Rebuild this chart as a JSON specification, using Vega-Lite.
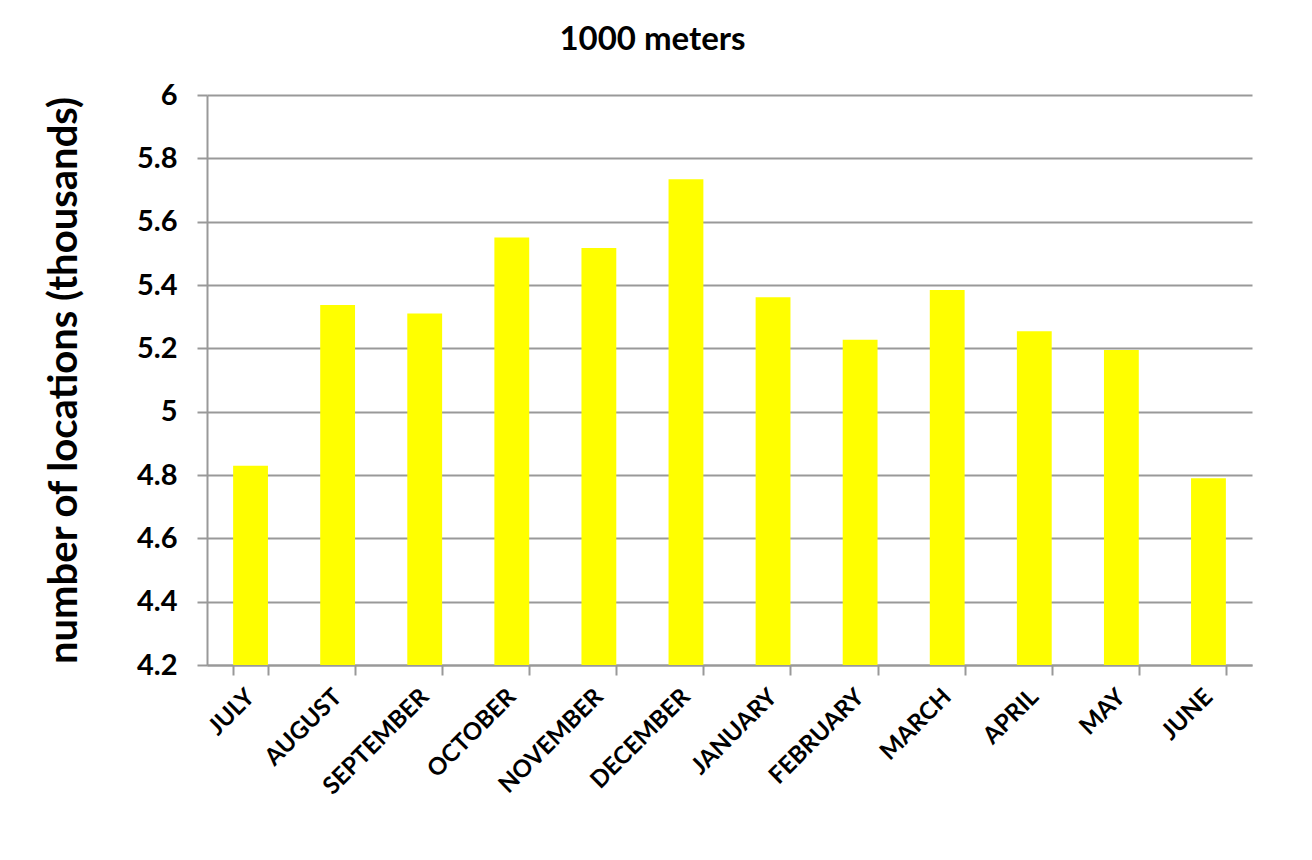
{
  "$schema": "https://vega.github.io/schema/vega-lite/v6.json",
  "autosize": "none",
  "width": 1045,
  "height": 570,
  "padding": {"left": 207, "top": 95, "right": 60, "bottom": 195},
  "background": "white",
  "title": {"text": "1000 meters", "font": "Lato", "fontSize": 33, "fontWeight": "bold", "color": "black", "offset": 24, "dx": -77},
  "data": {"values": [
    {"month": "JULY", "value": 4.829},
    {"month": "AUGUST", "value": 5.337},
    {"month": "SEPTEMBER", "value": 5.310},
    {"month": "OCTOBER", "value": 5.550},
    {"month": "NOVEMBER", "value": 5.517},
    {"month": "DECEMBER", "value": 5.734},
    {"month": "JANUARY", "value": 5.361},
    {"month": "FEBRUARY", "value": 5.227},
    {"month": "MARCH", "value": 5.384},
    {"month": "APRIL", "value": 5.254},
    {"month": "MAY", "value": 5.195},
    {"month": "JUNE", "value": 4.790}
  ]},
  "mark": {"type": "bar", "color": "#FFFF00", "clip": true},
  "encoding": {
    "x": {"field": "month", "type": "nominal", "sort": null,
      "scale": {"paddingInner": 0.6, "paddingOuter": 0.3},
      "axis": {"title": null, "labelAngle": -45, "labelAlign": "right", "labelBaseline": "middle",
        "labelFont": "Lato", "labelFontSize": 24, "labelFontWeight": "bold", "labelColor": "black",
        "labelPadding": 18, "tickBand": "extent", "tickSize": 10, "tickColor": "#999999", "tickWidth": 2,
        "domainColor": "#999999", "domainWidth": 2, "grid": false}},
    "y": {"field": "value", "type": "quantitative",
      "scale": {"domain": [4.2, 6], "zero": false, "nice": false},
      "axis": {"title": "number of locations (thousands)", "titleFont": "Lato", "titleFontSize": 40, "titleFontWeight": "bold", "titleColor": "black", "titlePadding": 52,
        "values": [4.2, 4.4, 4.6, 4.8, 5, 5.2, 5.4, 5.6, 5.8, 6], "format": ".1~f",
        "labelFont": "Lato", "labelFontSize": 29, "labelFontWeight": "bold", "labelColor": "black", "labelPadding": 20,
        "tickSize": 10, "tickColor": "#999999", "tickWidth": 2, "domainColor": "#999999", "domainWidth": 2,
        "grid": true, "gridColor": "#999999", "gridWidth": 2}}
  },
  "config": {"view": {"stroke": null}}
}
